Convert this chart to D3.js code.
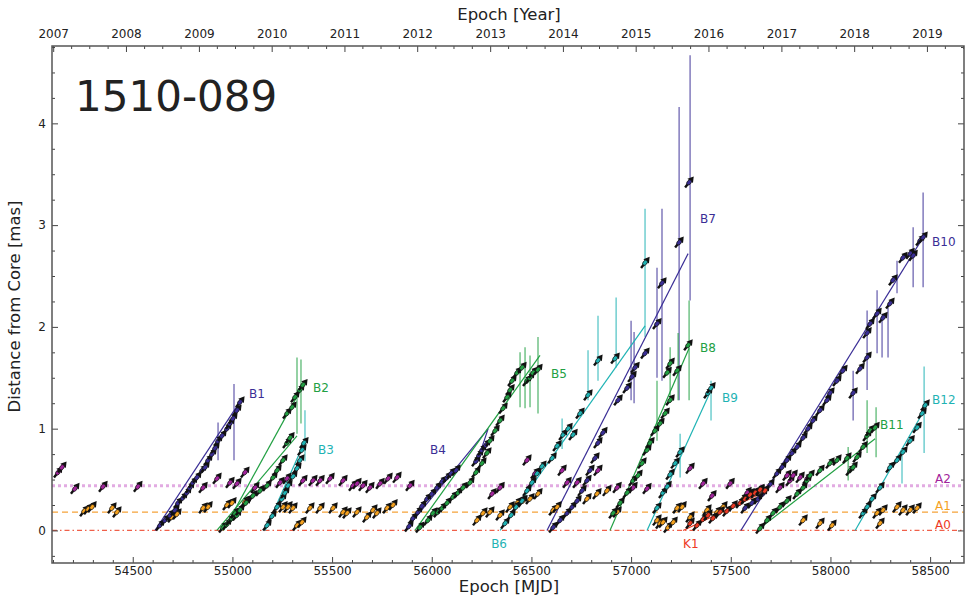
<!DOCTYPE html>
<html>
<head>
<meta charset="utf-8">
<script src="https://cdn.jsdelivr.net/npm/d3@7"></script>
<style>
  body { margin: 0; background: #fff; }
  svg { display: block; font-family: "DejaVu Sans", sans-serif; }
</style>
</head>
<body>
<svg id="chart" width="972" height="600"></svg>
<script>
// ---- Component positions: [epoch (MJD), distance from core (mas)] ----
const A2 = [[54125,0.57],[54145,0.62],[54210,0.41],[54351,0.43],[54526,0.43],[54853,0.42],[54923,0.51],[54988,0.47],[55023,0.46],[55063,0.57],[55113,0.42],[55239,0.47],[55274,0.51],[55354,0.49],[55404,0.49],[55440,0.49],[55490,0.51],[55555,0.49],[55605,0.44],[55625,0.46],[55655,0.44],[55690,0.42],[55741,0.46],[55781,0.51],[55826,0.52],[55891,0.44],[56303,0.36],[56343,0.42],[56478,0.69],[56518,0.56],[56654,0.59],[56679,0.47],[56729,0.47],[56834,0.59],[56930,0.42],[57010,0.42],[57080,0.41],[57296,0.61],[57361,0.46],[57406,0.34],[57497,0.46],[57582,0.37],[57747,0.42],[57782,0.54],[57798,0.49],[57813,0.54],[57848,0.52],[57883,0.51]];
const A1 = [[54256,0.19],[54276,0.21],[54296,0.23],[54396,0.22],[54421,0.18],[54697,0.13],[54722,0.16],[54853,0.22],[54878,0.23],[54973,0.25],[54998,0.27],[55063,0.28],[55073,0.29],[55254,0.23],[55279,0.23],[55304,0.22],[55324,0.05],[55349,0.08],[55389,0.22],[55440,0.22],[55505,0.22],[55555,0.18],[55575,0.17],[55625,0.18],[55675,0.13],[55705,0.20],[55725,0.17],[55776,0.22],[55806,0.25],[56227,0.10],[56257,0.17],[56292,0.18],[56343,0.15],[56393,0.23],[56428,0.27],[56458,0.29],[56493,0.31],[56533,0.36],[56609,0.20],[56629,0.23],[56779,0.31],[56829,0.36],[56879,0.39],[56930,0.18],[57130,0.10],[57145,0.07],[57160,0.08],[57185,0.03],[57211,0.08],[57231,0.22],[57256,0.23],[57296,0.13],[57381,0.20],[57431,0.18],[57461,0.23],[57562,0.31],[57597,0.36],[57647,0.39],[57863,0.10],[57948,0.07],[58008,0.05],[58234,0.17],[58249,0.07],[58264,0.20],[58334,0.23],[58364,0.20],[58400,0.20],[58435,0.22]];
const B1 = [[54637,0.05],[54662,0.10],[54687,0.15],[54712,0.20],[54727,0.27],[54752,0.32],[54772,0.37],[54787,0.42],[54802,0.47],[54822,0.52],[54848,0.59],[54863,0.62],[54878,0.69],[54898,0.75],[54913,0.81],[54928,0.88],[54948,0.93],[54973,1.00],[54988,1.05],[55003,1.10],[55023,1.18],[55038,1.26]];
const B2 = [[54953,0.03],[54973,0.06],[54988,0.10],[54998,0.12],[55013,0.17],[55023,0.15],[55038,0.20],[55068,0.27],[55103,0.34],[55139,0.39],[55174,0.44],[55204,0.52],[55224,0.59],[55254,0.69],[55274,0.86],[55289,0.91],[55274,1.15],[55299,1.21],[55314,1.31],[55339,1.38],[55354,1.43]];
const B3 = [[55174,0.05],[55199,0.14],[55224,0.23],[55249,0.31],[55264,0.37],[55279,0.44],[55304,0.53],[55324,0.61],[55339,0.69],[55349,0.79],[55359,0.86]];
const B4 = [[55886,0.04],[55906,0.12],[55931,0.18],[55951,0.24],[55976,0.31],[56001,0.36],[56026,0.42],[56052,0.48],[56077,0.52],[56097,0.56],[56122,0.59],[56222,0.68],[56237,0.74],[56252,0.79],[56272,0.84]];
const B5 = [[55941,0.03],[55981,0.10],[56006,0.17],[56031,0.18],[56052,0.22],[56077,0.27],[56107,0.33],[56132,0.37],[56157,0.42],[56192,0.47],[56222,0.57],[56252,0.66],[56277,0.76],[56292,0.88],[56318,0.98],[56343,1.08],[56358,1.20],[56378,1.31],[56393,1.38],[56403,1.47],[56428,1.55],[56453,1.60],[56478,1.47],[56493,1.50],[56508,1.55],[56533,1.58]];
const B6 = [[56368,0.07],[56398,0.15],[56423,0.23],[56453,0.29],[56478,0.39],[56503,0.47],[56528,0.56],[56553,0.63],[56604,0.71],[56629,0.83],[56659,0.94],[56684,1.00],[56709,0.94],[56744,1.15],[56784,1.33],[56834,1.67],[56920,1.69],[57070,2.63]];
const B7 = [[56609,0.03],[56644,0.10],[56679,0.17],[56704,0.23],[56729,0.29],[56754,0.39],[56779,0.49],[56794,0.59],[56819,0.71],[56834,0.86],[56859,0.96],[56935,1.28],[56980,1.40],[57005,1.51],[57020,1.60],[57070,1.74],[57130,2.03],[57155,2.43],[57241,2.83],[57291,3.42]];
const B8 = [[56910,0.17],[56945,0.27],[56980,0.37],[57010,0.49],[57035,0.54],[57055,0.66],[57080,0.79],[57095,0.86],[57120,0.98],[57145,1.05],[57171,1.15],[57196,1.28],[57181,1.55],[57196,1.64],[57231,1.57],[57286,1.82]];
const B9 = [[57130,0.22],[57160,0.37],[57181,0.43],[57196,0.55],[57221,0.66],[57246,0.77],[57386,1.35],[57401,1.40]];
const K1 = [[57296,0.07],[57331,0.05],[57361,0.11],[57386,0.15],[57411,0.12],[57446,0.18],[57481,0.19],[57512,0.24],[57547,0.27],[57572,0.31],[57597,0.35],[57622,0.37],[57647,0.40],[57672,0.39]];
const B10 = [[57572,0.22],[57607,0.27],[57637,0.31],[57662,0.36],[57697,0.45],[57732,0.56],[57757,0.62],[57782,0.69],[57808,0.76],[57833,0.82],[57863,0.91],[57888,1.00],[57913,1.08],[57948,1.18],[57983,1.28],[57998,1.35],[58033,1.47],[58063,1.57],[58114,1.35],[58149,1.59],[58184,1.70],[58184,1.94],[58199,2.03],[58234,2.13],[58264,2.09],[58299,2.23],[58314,2.46],[58364,2.68],[58400,2.72],[58415,2.70],[58450,2.85],[58465,2.88]];
const B11 = [[57647,0.02],[57682,0.10],[57712,0.17],[57747,0.23],[57782,0.29],[57833,0.36],[57863,0.42],[57883,0.49],[57898,0.54],[57948,0.59],[57998,0.66],[58033,0.69],[58083,0.71],[58099,0.59],[58114,0.62],[58134,0.72],[58164,0.82],[58184,0.93],[58199,0.98],[58224,1.01]];
const B12 = [[58164,0.17],[58184,0.23],[58209,0.31],[58249,0.42],[58299,0.62],[58334,0.69],[58364,0.77],[58400,0.88],[58435,1.01],[58460,1.15],[58475,1.23]];

// ---- Distance uncertainties: [epoch, lower, upper] ----
const errB1 = [[54928,0.69,1.06],[55008,0.69,1.44]];
const errB2 = [[55324,0.95,1.70],[55344,1.05,1.68]];
const errB3 = [[55364,0.68,1.18]];
const errB5 = [[56443,1.21,1.75],[56468,1.20,1.80],[56493,1.21,1.72],[56533,1.15,1.90]];
const errB6 = [[56654,0.80,1.10],[56784,1.28,1.77],[56834,1.47,2.11],[56925,1.60,2.29],[57070,1.90,3.16]];
const errB7 = [[57000,1.28,2.06],[57015,1.25,1.95],[57130,1.50,2.58],[57155,1.47,3.16],[57241,1.28,4.16],[57296,2.26,4.67]];
const errB8 = [[57130,0.88,1.47],[57196,1.28,1.80],[57236,1.28,1.94],[57291,1.28,2.26]];
const errB9 = [[57246,0.52,0.95],[57401,1.08,1.47]];
const errB10 = [[58114,1.08,1.57],[58184,1.38,2.16],[58234,1.74,2.36],[58259,1.70,2.13],[58289,1.70,2.19],[58334,2.33,2.65],[58415,2.39,2.98],[58465,2.39,3.32]];
const errB11 = [[58089,0.49,0.82],[58184,0.76,1.28],[58229,0.72,1.21]];
const errB12 = [[58359,0.46,0.75],[58470,0.76,1.61]];

// ---- Linear motion fits: [[epoch, dist], [epoch, dist], ...] ----
const fitB1 = [[54612,0],[55043,1.28]];
const fitB2 = [[54955,0],[55364,1.46]];
const fitB2b = [[54922,0],[55324,0.93]];
const fitB3 = [[55164,0],[55369,0.90]];
const fitB4 = [[55866,0],[56283,1.00],[56232,0.70]];
const fitB5 = [[55916,0],[56543,1.72]];
const fitB6 = [[56343,0],[57070,2.01]];
const fitB7 = [[56578,0],[57286,2.72]];
const fitB8 = [[56894,0],[57291,1.79]];
const fitB9 = [[57080,0],[57406,1.40]];
const fitK1 = [[57261,0],[57682,0.39]];
const fitB10 = [[57551,0],[58465,2.88]];
const fitB11 = [[57632,0],[58224,0.90]];
const fitB12 = [[58124,0],[58485,1.23]];

// ---- Stationary features (mas) ----
const stationary = [["A0", 0.0], ["A1", 0.18], ["A2", 0.44]];

// ---- Component labels: [text, epoch, dist] ----
const labels = [["B1",55083,1.34],["B2",55404,1.40],["B3",55429,0.79],["B4",55991,0.79],["B5",56598,1.54],["B6",56298,-0.13],["B7",57346,3.06],["B8",57346,1.79],["B9",57456,1.30],["B10",58510,2.84],["B11",58249,1.04],["B12",58510,1.28],["K1",57261,-0.13],["A2",58525,0.51],["A1",58525,0.24],["A0",58525,0.06]];

// ---- Axis ticks ----
const mjdTicks = [54500,55000,55500,56000,56500,57000,57500,58000,58500];
const yearLabels = [2007,2008,2009,2010,2011,2012,2013,2014,2015,2016,2017,2018,2019];
const distTicks = [0,1,2,3,4];

// ---- Colours per component family ----
const INDIGO = "#3a2e96", GREEN = "#22a043", TEAL = "#1fb3b4", MAGENTA = "#a2249c", ORANGE = "#f5a11e", RED = "#ee3a24";
const colorOf = {
  A0: RED, A1: ORANGE, A2: MAGENTA, K1: RED,
  B1: INDIGO, B4: INDIGO, B7: INDIGO, B10: INDIGO,
  B2: GREEN, B5: GREEN, B8: GREEN, B11: GREEN,
  B3: TEAL, B6: TEAL, B9: TEAL, B12: TEAL
};

const svg = d3.select("#chart");
const L = 52, R = 964, T = 46, Bt = 563;
const x = d3.scaleLinear().domain([54095, 58670]).range([L, R]);
const y = d3.scaleLinear().domain([-0.32, 4.76]).range([Bt, T]);

svg.append("defs").append("clipPath").attr("id", "plot")
  .append("rect").attr("x", L).attr("y", T).attr("width", R - L).attr("height", Bt - T);

const plot = svg.append("g").attr("clip-path", "url(#plot)");

// stationary feature lines
const statStyle = {
  A0: { dash: "5,3,1.5,3", width: 1.2, color: "#f0604a" },
  A1: { dash: "6,4", width: 1.3, color: "#f5a33a" },
  A2: { dash: "3,3", width: 3, color: "#e2abe2" }
};
stationary.forEach(([name, d]) => {
  const s = statStyle[name];
  plot.append("line")
    .attr("x1", L).attr("x2", R).attr("y1", y(d)).attr("y2", y(d))
    .attr("stroke", s.color).attr("stroke-width", s.width)
    .attr("stroke-dasharray", s.dash);
});

// error bars
const errSets = [["B1",errB1],["B2",errB2],["B3",errB3],["B5",errB5],["B6",errB6],["B7",errB7],["B8",errB8],["B9",errB9],["B10",errB10],["B11",errB11],["B12",errB12]];
errSets.forEach(([name, rows]) => {
  plot.append("g").selectAll("line").data(rows).join("line")
    .attr("x1", d => x(d[0])).attr("x2", d => x(d[0]))
    .attr("y1", d => y(d[1])).attr("y2", d => y(d[2]))
    .attr("stroke", colorOf[name]).attr("stroke-width", 1.6).attr("stroke-opacity", 0.6);
});

// fitted trajectories
const fits = [["B1",fitB1],["B2",fitB2],["B2",fitB2b],["B3",fitB3],["B4",fitB4],["B5",fitB5],["B6",fitB6],["B7",fitB7],["B8",fitB8],["B9",fitB9],["K1",fitK1],["B10",fitB10],["B11",fitB11],["B12",fitB12]];
const line = d3.line().x(d => x(d[0])).y(d => y(d[1]));
fits.forEach(([name, pts]) => {
  plot.append("path").attr("d", line(pts))
    .attr("fill", "none").attr("stroke", colorOf[name]).attr("stroke-width", 1.2);
});

// component markers: small black arrows with a coloured core
function drawMarkers(name, rows) {
  const g = plot.append("g").selectAll("g").data(rows).join("g")
    .attr("transform", d => `translate(${x(d[0])},${y(d[1])}) rotate(-52)`);
  g.append("line").attr("x1", -6.5).attr("x2", 3).attr("y1", 0).attr("y2", 0)
    .attr("stroke", "#111").attr("stroke-width", 2.4);
  g.append("path").attr("d", "M7.5,0 L1.8,-3.5 L1.8,3.5 Z").attr("fill", "#111");
  g.append("ellipse").attr("rx", 2.9).attr("ry", 2.0)
    .attr("fill", colorOf[name]).attr("stroke", "#111").attr("stroke-width", 0.7);
}
[["A1",A1],["A2",A2],["B1",B1],["B2",B2],["B3",B3],["B4",B4],["B5",B5],["B6",B6],["B7",B7],["B8",B8],["B9",B9],["B11",B11],["B12",B12],["B10",B10],["K1",K1]]
  .forEach(([n, r]) => drawMarkers(n, r));

// component labels
svg.append("g").selectAll("text").data(labels).join("text")
  .attr("x", d => x(d[1])).attr("y", d => y(d[2]))
  .attr("dy", "0.35em")
  .attr("fill", d => colorOf[d[0]])
  .attr("font-size", 12)
  .text(d => d[0]);

// ---- axes ----
function styleAxis(g) {
  g.select(".domain").remove();
  g.selectAll(".tick line").attr("stroke", "#444").attr("stroke-width", 1);
  g.selectAll(".tick text").attr("fill", "#222").attr("font-size", 12)
    .attr("font-family", "DejaVu Sans, sans-serif");
}
const minorMjd = d3.range(54100, 58700, 100).filter(v => v % 500 !== 0);
const minorDist = d3.range(-0.25, 4.76, 0.25).filter(v => Math.abs(v - Math.round(v)) > 1e-6);

svg.append("g").attr("transform", `translate(0,${Bt})`)
  .call(d3.axisBottom(x).tickValues(mjdTicks).tickSize(-6).tickPadding(3).tickFormat(d3.format("d")))
  .call(styleAxis);
svg.append("g").attr("transform", `translate(0,${Bt})`)
  .call(d3.axisBottom(x).tickValues(minorMjd).tickSize(-3).tickFormat(""))
  .call(styleAxis);

svg.append("g").attr("transform", `translate(${L},0)`)
  .call(d3.axisLeft(y).tickValues(distTicks).tickSize(-6).tickPadding(6).tickFormat(d3.format("d")))
  .call(styleAxis);
svg.append("g").attr("transform", `translate(${L},0)`)
  .call(d3.axisLeft(y).tickValues(minorDist).tickSize(-3).tickFormat(""))
  .call(styleAxis);
svg.append("g").attr("transform", `translate(${R},0)`)
  .call(d3.axisRight(y).tickValues(distTicks).tickSize(-6).tickFormat(""))
  .call(styleAxis);
svg.append("g").attr("transform", `translate(${R},0)`)
  .call(d3.axisRight(y).tickValues(minorDist).tickSize(-3).tickFormat(""))
  .call(styleAxis);

// top axis in calendar years
const mjdZero = Date.UTC(1858, 10, 17);
const toDate = m => new Date(mjdZero + m * 864e5);
const xt = d3.scaleUtc().domain(x.domain().map(toDate)).range(x.range());
const yearDates = yearLabels.map(yr => new Date(Date.UTC(yr, 0, 1)));
const quarterDates = d3.utcMonth.every(3).range(xt.domain()[0], xt.domain()[1]).filter(d => d.getUTCMonth() !== 0);
svg.append("g").attr("transform", `translate(0,${T})`)
  .call(d3.axisTop(xt).tickValues(yearDates).tickSize(-6).tickPadding(8).tickFormat(d3.utcFormat("%Y")))
  .call(styleAxis);
svg.append("g").attr("transform", `translate(0,${T})`)
  .call(d3.axisTop(xt).tickValues(quarterDates).tickSize(-3).tickFormat(""))
  .call(styleAxis);

// frame
svg.append("rect").attr("x", L).attr("y", T).attr("width", R - L).attr("height", Bt - T)
  .attr("fill", "none").attr("stroke", "#555").attr("stroke-width", 1.5);

// titles
svg.append("text").attr("x", 509).attr("y", 592).attr("text-anchor", "middle")
  .attr("font-size", 16.5).attr("fill", "#222").text("Epoch [MJD]");
svg.append("text").attr("x", 509).attr("y", 20).attr("text-anchor", "middle")
  .attr("font-size", 16.5).attr("fill", "#222").text("Epoch [Year]");
svg.append("text").attr("transform", `translate(20,${(T + Bt) / 2 + 2}) rotate(-90)`)
  .attr("text-anchor", "middle").attr("font-size", 16.5).attr("fill", "#222")
  .text("Distance from Core [mas]");
svg.append("text").attr("x", 75).attr("y", 111).attr("font-size", 42).attr("fill", "#222")
  .text("1510-089");
</script>
</body>
</html>
